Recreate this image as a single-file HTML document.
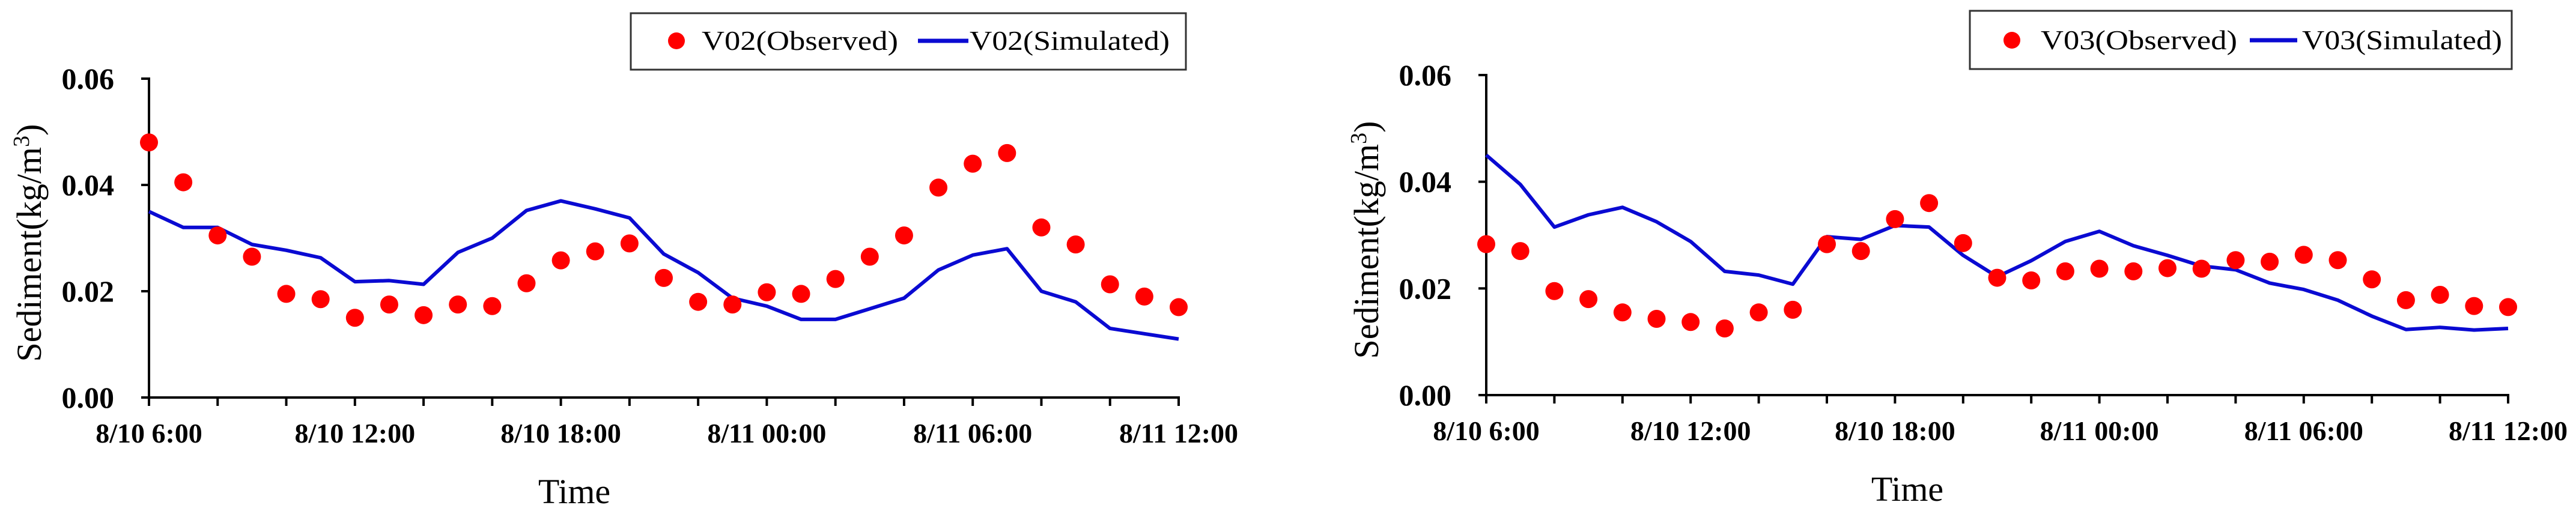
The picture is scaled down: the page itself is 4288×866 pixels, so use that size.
<!DOCTYPE html>
<html><head><meta charset="utf-8"><style>
html,body{margin:0;padding:0;background:#fff;}
svg{display:block;}
text{font-family:"Liberation Serif",serif;fill:#000;}
</style></head><body>
<svg id="root" width="4288" height="866" viewBox="0 0 4288 866"></svg>
<script>
const hours = [];
for (let i = 0; i <= 30; i++) hours.push(i);
const tickLabels = ["8/10 6:00","8/10 12:00","8/10 18:00","8/11 00:00","8/11 06:00","8/11 12:00"];
const yTicks = [0, 0.02, 0.04, 0.06];
const yTickLabels = ["0.00","0.02","0.04","0.06"];
const v02Observed = [0.048,0.0405,0.0305,0.0265,0.0195,0.0185,0.015,0.0175,0.0155,0.0175,0.0172,0.0215,0.0258,0.0275,0.029,0.0225,0.018,0.0175,0.0198,0.0195,0.0223,0.0265,0.0305,0.0395,0.044,0.046,0.032,0.0288,0.0213,0.019,0.017];
const v02Simulated = [0.035,0.032,0.032,0.0288,0.0277,0.0263,0.0218,0.022,0.0213,0.0273,0.03,0.0352,0.037,0.0355,0.0338,0.027,0.0235,0.0187,0.0172,0.0147,0.0147,0.0167,0.0187,0.024,0.0268,0.028,0.02,0.018,0.013,0.012,0.011];
const v03Observed = [0.0283,0.027,0.0195,0.018,0.0155,0.0143,0.0137,0.0125,0.0155,0.016,0.0283,0.027,0.033,0.036,0.0285,0.022,0.0215,0.0232,0.0237,0.0232,0.0238,0.0237,0.0253,0.025,0.0263,0.0253,0.0217,0.0178,0.0188,0.0167,0.0165];
const v03Simulated = [0.045,0.0395,0.0315,0.0338,0.0352,0.0325,0.0288,0.0232,0.0225,0.0208,0.0297,0.0292,0.0318,0.0315,0.0262,0.0222,0.0252,0.0288,0.0307,0.028,0.0262,0.0242,0.0235,0.021,0.0198,0.0178,0.0148,0.0123,0.0127,0.0122,0.0125];

const NS = "http://www.w3.org/2000/svg";
const root = document.getElementById('root');
function mk(tag, attrs, parent) {
  const e = document.createElementNS(NS, tag);
  for (const k in attrs) e.setAttribute(k, attrs[k]);
  (parent || root).appendChild(e);
  return e;
}

function chart(cfg) {
  const g = mk('g', {});
  
  
  const xS = h => cfg.x0 + (cfg.x1 - cfg.x0) * h / 30;
  const yS = v => cfg.y0 + (cfg.yTop - cfg.y0) * v / 0.06;

  const ya = mk('line', {x1: cfg.x0, y1: yS(0.06) - 2, x2: cfg.x0, y2: cfg.y0 + 2, stroke: '#000', 'stroke-width': 4}, g);
  
  
  yTicks.forEach((v, i) => {
    mk('line', {x1: cfg.x0 - 13, y1: yS(v), x2: cfg.x0, y2: yS(v), stroke: '#000', 'stroke-width': 4}, g);
    const t = mk('text', {x: cfg.x0 - 58, y: yS(v) + 17, 'text-anchor': 'end', 'font-size': 50, 'font-weight': 'bold'}, g);
    t.textContent = yTickLabels[i];
    
    
  });
  const xa = mk('line', {x1: cfg.x0 - 13, y1: cfg.y0, x2: cfg.x1 + 2, y2: cfg.y0, stroke: '#000', 'stroke-width': 4}, g);
  
  
  for (let h = 0; h <= 30; h += 2) {
    mk('line', {x1: xS(h), y1: cfg.y0, x2: xS(h), y2: cfg.y0 + 14, stroke: '#000', 'stroke-width': 4}, g);
  }
  tickLabels.forEach((lab, i) => {
    const t = mk('text', {x: xS(i * 6), y: cfg.y0 + 75, 'text-anchor': 'middle', 'font-size': 46, 'font-weight': 'bold'}, g);
    t.textContent = lab;
    
    
  });
  const xt = mk('text', {x: cfg.timeX, y: cfg.y0 + 176, 'text-anchor': 'middle', 'font-size': 58}, g);
  xt.textContent = 'Time';
  
  
  const yt = mk('text', {x: 0, y: 0, 'text-anchor': 'middle', 'font-size': 58, transform: `translate(${cfg.x0 - 180},${(cfg.y0 + yS(0.06)) / 2 + 8}) rotate(-90)`}, g);
  yt.innerHTML = 'Sediment(kg/m<tspan dy="-20" font-size="38">3</tspan><tspan dy="20">)</tspan>';
  
  

  const pts = cfg.sim.map((v, i) => xS(hours[i]) + ',' + yS(v)).join(' ');
  const pl = mk('polyline', {points: pts, fill: 'none', stroke: '#0a0ad2', 'stroke-width': 6, 'stroke-linejoin': 'round'}, g);
  
  
  cfg.obs.forEach((v, i) => {
    const c = mk('circle', {cx: xS(hours[i]), cy: yS(v), r: 15, fill: '#ff0000'}, g);
    
    
  });

  const L = cfg.leg;
  const lg = mk('g', {}, g);
  
  
  mk('rect', {x: L.x, y: L.y, width: L.w, height: L.h, fill: '#fff', stroke: '#333', 'stroke-width': 3}, lg);
  const ld = mk('circle', {cx: L.dot, cy: L.cy, r: 14, fill: '#ff0000'}, lg);
  
  
  const t1 = mk('text', {x: L.t1, y: L.cy + 15, 'font-size': 46, textLength: L.t1w, lengthAdjust: 'spacingAndGlyphs'}, lg);
  t1.textContent = cfg.label + '(Observed)';
  
  
  const ll = mk('line', {x1: L.l1, y1: L.cy, x2: L.l2, y2: L.cy, stroke: '#0a0ad2', 'stroke-width': 7}, lg);
  
  
  const t2 = mk('text', {x: L.t2, y: L.cy + 15, 'font-size': 46, textLength: L.t2w, lengthAdjust: 'spacingAndGlyphs'}, lg);
  t2.textContent = cfg.label + '(Simulated)';
  
  
}

chart({name: 'chart-v02', label: 'V02', x0: 248, x1: 1962, y0: 662, yTop: 131, timeX: 956,
  obs: v02Observed, sim: v02Simulated,
  leg: {x: 1050, y: 22, w: 924, h: 94, cy: 68, dot: 1126, t1: 1168, t1w: 327, l1: 1528, l2: 1612, t2: 1614, t2w: 333}});
chart({name: 'chart-v03', label: 'V03', x0: 2474, x1: 4175, y0: 658, yTop: 125, timeX: 3175,
  obs: v03Observed, sim: v03Simulated,
  leg: {x: 3279, y: 18, w: 902, h: 97, cy: 67, dot: 3349, t1: 3397, t1w: 327, l1: 3745, l2: 3824, t2: 3832, t2w: 333}});
</script>
</body></html>
